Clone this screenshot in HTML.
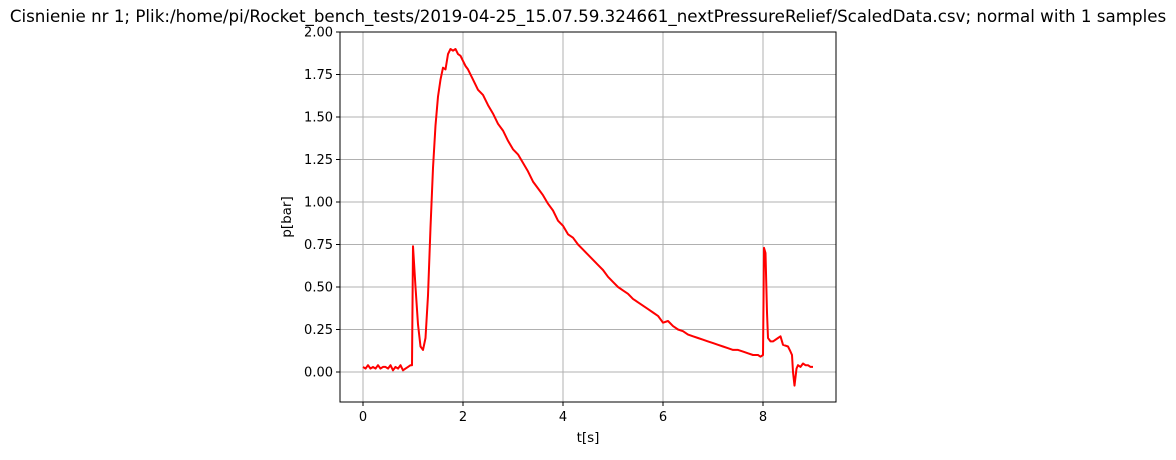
<!DOCTYPE html>
<html><head><meta charset="utf-8"><style>
body{margin:0;background:#fff;}
svg text{font-family:"DejaVu Sans","Liberation Sans",sans-serif;fill:#000;}
</style></head><body>
<svg id="chart" width="1176" height="455" xmlns="http://www.w3.org/2000/svg">
<text x="588" y="22" font-size="16.7" text-anchor="middle">Cisnienie nr 1; Plik:/home/pi/Rocket_bench_tests/2019-04-25_15.07.59.324661_nextPressureRelief/ScaledData.csv; normal with 1 samples</text>
<g id="grid"></g>
<g id="ticks"></g>
<polyline id="line" fill="none" stroke="#ff0000" stroke-width="2" stroke-linejoin="round"/>
<rect x="340" y="32" width="496" height="370" fill="none" stroke="#000" stroke-width="1"/>
<text x="588" y="442" font-size="13.5" text-anchor="middle">t[s]</text>
<text x="0" y="0" font-size="13.5" text-anchor="middle" transform="translate(291,217) rotate(-90)">p[bar]</text>
</svg>
<script>
const xTicks=[0,2,4,6,8];
const xTickLabels=["0","2","4","6","8"];
const yTicks=[0,0.25,0.5,0.75,1,1.25,1.5,1.75,2];
const yTickLabels=["0.00","0.25","0.50","0.75","1.00","1.25","1.50","1.75","2.00"];
const times=[0,0.05,0.1,0.15,0.2,0.25,0.3,0.35,0.4,0.45,0.5,0.55,0.6,0.65,0.7,0.75,0.8,0.85,0.9,0.95,0.98,1.0,1.05,1.1,1.15,1.2,1.25,1.3,1.35,1.4,1.45,1.5,1.55,1.6,1.65,1.7,1.75,1.8,1.85,1.9,1.95,2.0,2.05,2.1,2.2,2.3,2.4,2.5,2.6,2.7,2.8,2.9,3.0,3.1,3.2,3.3,3.4,3.5,3.6,3.7,3.8,3.9,4.0,4.1,4.2,4.3,4.4,4.5,4.6,4.7,4.8,4.9,5.0,5.1,5.2,5.3,5.4,5.5,5.6,5.7,5.8,5.9,6.0,6.1,6.2,6.3,6.4,6.5,6.6,6.7,6.8,6.9,7.0,7.1,7.2,7.3,7.4,7.5,7.6,7.7,7.8,7.9,7.95,8.0,8.02,8.05,8.08,8.1,8.15,8.2,8.3,8.35,8.4,8.5,8.55,8.58,8.6,8.63,8.67,8.7,8.75,8.8,8.85,8.9,8.95,9.0];
const pressures=[0.03,0.02,0.04,0.02,0.03,0.02,0.04,0.02,0.03,0.03,0.02,0.04,0.01,0.03,0.02,0.04,0.01,0.02,0.03,0.04,0.04,0.74,0.5,0.28,0.15,0.13,0.2,0.45,0.85,1.2,1.45,1.62,1.72,1.79,1.78,1.87,1.9,1.89,1.9,1.87,1.86,1.83,1.8,1.78,1.72,1.66,1.63,1.57,1.52,1.46,1.42,1.36,1.31,1.28,1.23,1.18,1.12,1.08,1.04,0.99,0.95,0.89,0.86,0.81,0.79,0.75,0.72,0.69,0.66,0.63,0.6,0.56,0.53,0.5,0.48,0.46,0.43,0.41,0.39,0.37,0.35,0.33,0.29,0.3,0.27,0.25,0.24,0.22,0.21,0.2,0.19,0.18,0.17,0.16,0.15,0.14,0.13,0.13,0.12,0.11,0.1,0.1,0.09,0.1,0.73,0.7,0.35,0.2,0.18,0.18,0.2,0.21,0.16,0.15,0.12,0.1,0.0,-0.08,0.02,0.04,0.03,0.05,0.04,0.04,0.03,0.03,0.02];
const X0=340,X1=836,Y0=32,Y1=402,XMIN=-0.46,XMAX=9.46,YMIN=-0.1765,YMAX=2.0;
function xs(v){return X0+(v-XMIN)/(XMAX-XMIN)*(X1-X0);}
function ys(v){return Y1-(v-YMIN)/(YMAX-YMIN)*(Y1-Y0);}
const NS="http://www.w3.org/2000/svg";
const grid=document.getElementById('grid'),ticks=document.getElementById('ticks');
function mk(tag,attrs,parent){const e=document.createElementNS(NS,tag);for(const k in attrs)e.setAttribute(k,attrs[k]);parent.appendChild(e);return e;}
xTicks.forEach((v,i)=>{const x=xs(v);
 const g=mk('line',{x1:x,x2:x,y1:Y0,y2:Y1,stroke:'#b0b0b0','stroke-width':1},grid);
 
 
 const t=mk('line',{x1:x,x2:x,y1:Y1,y2:Y1+4,stroke:'#000'},ticks);
 
 
 const l=mk('text',{x:x,y:Y1+19,'font-size':13,'text-anchor':'middle'},ticks);l.textContent=xTickLabels[i];
 
 
});
yTicks.forEach((v,i)=>{const y=ys(v);
 const g=mk('line',{x1:X0,x2:X1,y1:y,y2:y,stroke:'#b0b0b0','stroke-width':1},grid);
 
 
 const t=mk('line',{x1:X0-4,x2:X0,y1:y,y2:y,stroke:'#000'},ticks);
 
 
 const l=mk('text',{x:X0-7,y:y+4.5,'font-size':13,'text-anchor':'end'},ticks);l.textContent=yTickLabels[i];
 
 
});
document.getElementById('line').setAttribute('points',times.map((t,i)=>xs(t).toFixed(1)+','+ys(pressures[i]).toFixed(1)).join(' '));
</script>
</body></html>
